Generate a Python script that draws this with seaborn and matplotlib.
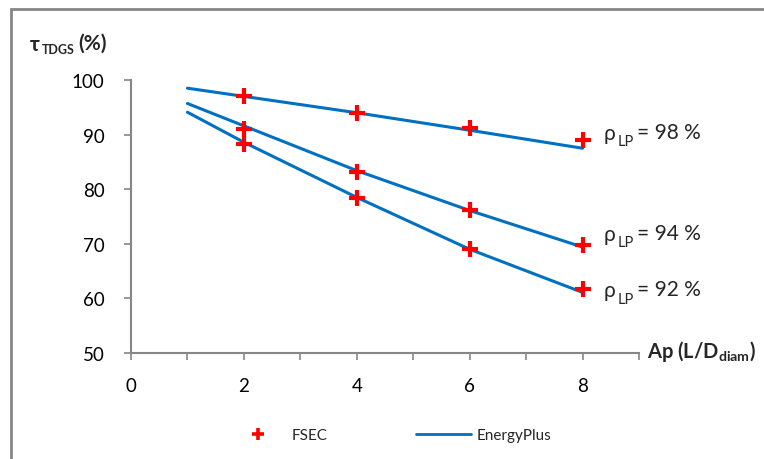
import pandas as pd
import matplotlib
matplotlib.use("Agg")
import matplotlib.pyplot as plt
from matplotlib.patches import Rectangle
import seaborn as sns

# FSEC measured points (x = aspect ratio)
fsec_x = [2, 4, 6, 8]
fsec_98 = [97.0, 94.0, 91.2, 89.0]
fsec_94 = [91.1, 83.2, 76.1, 69.7]
fsec_92 = [88.3, 78.3, 69.0, 61.7]

# EnergyPlus curves
ep_x = [1, 2, 4, 6, 8]
ep_98 = [98.5, 97.0, 94.0, 90.8, 87.5]
ep_94 = [95.7, 91.6, 83.4, 76.1, 69.4]
ep_92 = [94.1, 88.6, 78.5, 69.0, 61.1]

rho_labels = ["98 %", "94 %", "92 %"]
label_y = [90.3, 71.8, 61.5]

sns.set_style("white")
plt.rcParams["font.family"] = ["Lato", "DejaVu Sans"]
plt.rcParams["mathtext.fontset"] = "custom"
plt.rcParams["mathtext.rm"] = "Lato"
plt.rcParams["mathtext.bf"] = "Lato:bold"

fsec = pd.DataFrame({
    "x": fsec_x * 3,
    "y": fsec_98 + fsec_94 + fsec_92,
    "rho": ["98"] * 4 + ["94"] * 4 + ["92"] * 4,
})
ep = pd.DataFrame({
    "x": ep_x * 3,
    "y": ep_98 + ep_94 + ep_92,
    "rho": ["98"] * 5 + ["94"] * 5 + ["92"] * 5,
})

fig = plt.figure(figsize=(7.64, 4.6), dpi=100)
ax = fig.add_axes([131 / 764, 1 - 354 / 460, 508 / 764, 273 / 460])

blue = "#0070C0"
red = "#FF0000"
sns.lineplot(data=ep, x="x", y="y", units="rho", estimator=None,
             color=blue, linewidth=2.2, ax=ax, legend=False)
for r in ["98", "94", "92"]:
    d = fsec[fsec["rho"] == r]
    ax.plot(d["x"], d["y"], linestyle="none", marker="+", markersize=11.5,
            markeredgewidth=3, color=red, zorder=5)

ax.set_xlim(0, 9)
ax.set_ylim(50, 100)
ax.set_xticks([0, 2, 4, 6, 8])
ax.set_xticks(range(0, 10), minor=True)
ax.set_yticks(range(50, 101, 10))
ax.tick_params(axis="both", which="both", direction="out", length=5,
               width=1.2, color="#868686", labelsize=13.5, labelcolor="black")
ax.tick_params(axis="x", which="major", pad=12)
ax.tick_params(axis="y", which="major", pad=14)
ax.tick_params(axis="both", which="both", bottom=True, left=True)
for s in ["top", "right"]:
    ax.spines[s].set_visible(False)
for s in ["left", "bottom"]:
    ax.spines[s].set_color("#868686")
    ax.spines[s].set_linewidth(1.5)
ax.set_xlabel("")
ax.set_ylabel("")

# rho labels at the right end of each curve
for txt, yv in zip(rho_labels, label_y):
    ax.annotate("ρ", (8.38, yv), fontsize=15, va="center", ha="left",
                annotation_clip=False)
    ax.annotate("LP", (8.38, yv), xytext=(9.5, -6), textcoords="offset points",
                fontsize=10.5, va="center", ha="left", annotation_clip=False)
    ax.annotate("= " + txt, (8.38, yv), xytext=(24, 1),
                textcoords="offset points", fontsize=15, va="center",
                ha="left", annotation_clip=False)

# axis titles
fig.text(30 / 764, 1 - 45 / 460, "τ", fontsize=15, fontweight="bold",
         va="center", ha="left")
fig.text(42 / 764, 1 - 50 / 460, "TDGS", fontsize=9, fontweight="bold",
         va="center", ha="left")
fig.text(78 / 764, 1 - 44 / 460, "(%)", fontsize=15, fontweight="bold",
         va="center", ha="left")
fig.text(647 / 764, 1 - 352 / 460, r"Ap (L/D$_{\mathbf{diam}}$)", fontsize=14.5,
         fontweight="bold", va="center", ha="left")

# legend
handles = [
    plt.Line2D([], [], linestyle="none", marker="+", markersize=8,
               markeredgewidth=2.6, color=red),
    plt.Line2D([], [], color=blue, linewidth=2),
]
fig.legend(handles, ["FSEC", "EnergyPlus"], loc="center",
           bbox_to_anchor=(391 / 764, 1 - 436 / 460), ncol=2, frameon=False,
           fontsize=11, handlelength=3.6, handletextpad=0.4,
           columnspacing=5.8)

# chart area border
fig.patches.append(Rectangle((11 / 764, -0.05), 1.2, 1.05 - 10 / 460,
                             transform=fig.transFigure, fill=False,
                             edgecolor="#868686", linewidth=2))

fig.savefig("out.png", dpi=100)
